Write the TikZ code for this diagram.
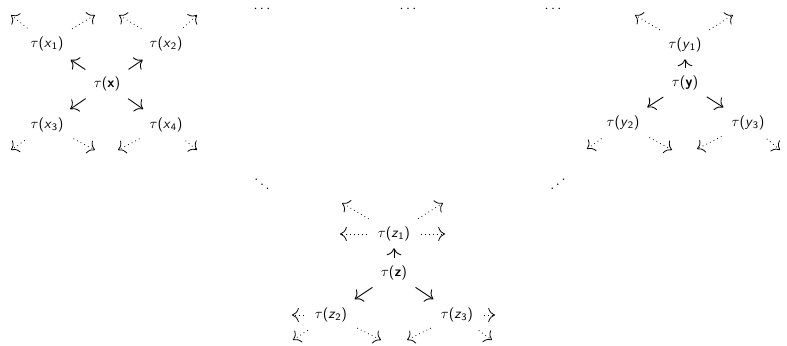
\documentclass[tikz,border=0pt]{standalone}
\usetikzlibrary{arrows.meta}
% tau-labels with sans letters and digits
\newcommand\taulbl[2]{$\tau$\textsf{(\textit{#1}\textsubscript{#2})}}
\newcommand\taubf[1]{$\tau$\textsf{(\textbf{#1})}}
\tikzset{
  cmtip/.style={-{Computer Modern Rightarrow[scale=1.7]}},
  solidarr/.style={cmtip, line width=0.6pt, shorten <=3pt, shorten >=4.5pt},
  vertarr/.style={cmtip, line width=0.6pt, shorten <=2.2pt, shorten >=1.4pt},
  dotarr/.style={cmtip, line width=0.55pt, dash pattern=on 0.55pt off 2.3pt, shorten <=4pt},
}
\begin{document}
\begin{tikzpicture}[x=0.7pt,y=-0.7pt]
\useasboundingbox (0,0) rectangle (787,346);

% ---- tree rooted at tau(x)
\node (X)  at (107,84)  {\taubf{x}};
\node (X1) at (47,44)   {\taulbl{x}{1}};
\node (X2) at (166,44)  {\taulbl{x}{2}};
\node (X3) at (47,125)  {\taulbl{x}{3}};
\node (X4) at (166,125) {\taulbl{x}{4}};
\draw[solidarr] (X) -- (X1);
\draw[solidarr] (X) -- (X2);
\draw[solidarr] (X) -- (X3);
\draw[solidarr] (X) -- (X4);
\coordinate (x1a) at (11,15);  \coordinate (x1b) at (95,15);
\coordinate (x2a) at (119,15); \coordinate (x2b) at (197,15);
\coordinate (x3a) at (11,150); \coordinate (x3b) at (95,150);
\coordinate (x4a) at (118,150); \coordinate (x4b) at (197,150);
\draw[dotarr] (X1) -- (x1a);
\draw[dotarr] (X1) -- (x1b);
\draw[dotarr] (X2) -- (x2a);
\draw[dotarr] (X2) -- (x2b);
\draw[dotarr] (X3) -- (x3a);
\draw[dotarr] (X3) -- (x3b);
\draw[dotarr] (X4) -- (x4a);
\draw[dotarr] (X4) -- (x4b);

% ---- tree rooted at tau(y)
\node (Y)  at (685,83)  {\taubf{y}};
\node (Y1) at (685,45)  {\taulbl{y}{1}};
\node (Y2) at (623,123) {\taulbl{y}{2}};
\node (Y3) at (748,123) {\taulbl{y}{3}};
\draw[vertarr] (Y) -- (Y1);
\draw[solidarr] (Y) -- (Y2);
\draw[solidarr] (Y) -- (Y3);
\coordinate (y1a) at (635,15); \coordinate (y1b) at (733,15);
\coordinate (y2a) at (587,149); \coordinate (y2b) at (672,150);
\coordinate (y3a) at (697,149); \coordinate (y3b) at (780,150);
\draw[dotarr] (Y1) -- (y1a);
\draw[dotarr] (Y1) -- (y1b);
\draw[dotarr] (Y2) -- (y2a);
\draw[dotarr] (Y2) -- (y2b);
\draw[dotarr] (Y3) -- (y3a);
\draw[dotarr] (Y3) -- (y3b);

% ---- tree rooted at tau(z)
\node (Z)  at (394,273) {\taubf{z}};
\node (Z1) at (394,234) {\taulbl{z}{1}};
\node (Z2) at (331,315) {\taulbl{z}{2}};
\node (Z3) at (457,315) {\taulbl{z}{3}};
\draw[vertarr] (Z) -- (Z1);
\draw[solidarr] (Z) -- (Z2);
\draw[solidarr] (Z) -- (Z3);
\coordinate (z1l) at (340,234); \coordinate (z1r) at (445,234);
\coordinate (z1a) at (342,203); \coordinate (z1b) at (443,203);
\coordinate (z2l) at (292,315);
\coordinate (z2a) at (293,340); \coordinate (z2b) at (381,340);
\coordinate (z3r) at (495,315);
\coordinate (z3a) at (407,340); \coordinate (z3b) at (492,340);
\draw[dotarr] (Z1) -- (z1l);
\draw[dotarr] (Z1) -- (z1r);
\draw[dotarr] (Z1) -- (z1a);
\draw[dotarr] (Z1) -- (z1b);
\draw[dotarr] (Z2) -- (z2l);
\draw[dotarr] (Z2) -- (z2a);
\draw[dotarr] (Z2) -- (z2b);
\draw[dotarr] (Z3) -- (z3r);
\draw[dotarr] (Z3) -- (z3a);
\draw[dotarr] (Z3) -- (z3b);

% ---- ellipses between the trees
\node (d1) at (262,9)  {$\cdots$};
\node (d2) at (408,9)  {$\cdots$};
\node (d3) at (553,9)  {$\cdots$};
\node (d4) at (262,180) {$\ddots$};
\node (d5) at (558,180) {\reflectbox{$\ddots$}};
\end{tikzpicture}
\end{document}
